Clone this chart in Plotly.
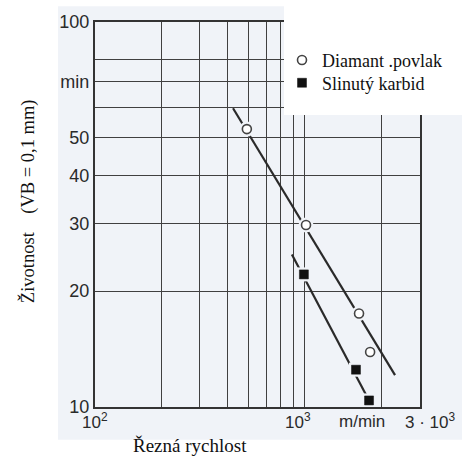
import math
import plotly.graph_objects as go

# ---- data ----
diamond_speed = [490, 910, 1585, 1780]        # m/min
diamond_life = [52.7, 29.7, 17.5, 13.9]       # min
carbide_speed = [890, 1535, 1760]
carbide_life = [22.1, 12.5, 10.4]

diamond_fit_speed = [424, 2310]
diamond_fit_life = [59.7, 12.1]
carbide_fit_speed = [785, 1760]
carbide_fit_life = [24.9, 10.4]

x_grid_vals = [200, 300, 400, 500, 600, 700, 800, 900, 2000]
y_grid_vals = [20, 30, 40, 50, 60, 70, 80]
y_tick_vals = [10, 20, 30, 40, 50, 70, 100]
y_tick_text = ["10", "20", "30", "40", "50", "min", "100"]

x_label_vals = [100, 1000, 3000]
x_label_text = ["10<sup>2</sup>", "10<sup>3</sup>", "3 · 10<sup>3</sup>"]
x_label_shift = [0, -17, 10]

names = ["Diamant .povlak", "Slinutý karbid"]
x_title = "Řezná rychlost"
y_title = "Životnost\u00a0\u00a0\u00a0\u00a0(VB = 0,1 mm)"
unit_label = "m/min"

INK = "#2a2a2a"
GRID = "#404040"
BG = "#f0f3f8"
SANS = "Liberation Sans, Arial, sans-serif"
SERIF = "Liberation Serif"

fig = go.Figure()

# fitted lines
fig.add_trace(go.Scatter(x=diamond_fit_speed, y=diamond_fit_life, mode="lines",
                         line=dict(color=INK, width=2.2), showlegend=False, hoverinfo="skip"))
fig.add_trace(go.Scatter(x=carbide_fit_speed, y=carbide_fit_life, mode="lines",
                         line=dict(color=INK, width=2.2), showlegend=False, hoverinfo="skip"))
# halos (gaps in the line around markers)
fig.add_trace(go.Scatter(x=diamond_speed, y=diamond_life, mode="markers",
                         marker=dict(symbol="circle", size=15, color=BG), showlegend=False, hoverinfo="skip"))
fig.add_trace(go.Scatter(x=carbide_speed, y=carbide_life, mode="markers",
                         marker=dict(symbol="square", size=14, color=BG), showlegend=False, hoverinfo="skip"))
# markers
fig.add_trace(go.Scatter(x=diamond_speed, y=diamond_life, mode="markers", name=names[0],
                         legend="legend",
                         marker=dict(symbol="circle", size=9, color="white",
                                     line=dict(color="#444", width=1.6))))
fig.add_trace(go.Scatter(x=carbide_speed, y=carbide_life, mode="markers", name=names[1],
                         legend="legend2",
                         marker=dict(symbol="square", size=9, color="#111",
                                     line=dict(color="#111", width=0.5))))

L, R, T, B = 95, 42, 18, 55
W = H = 462
pw = W - L - R
ph = H - T - B

def px_x(px):
    return (px - L) / pw

def px_y(py):
    return 1 - (py - T) / ph

shapes = [
    # scanned background tint
    dict(type="rect", xref="paper", yref="paper", x0=px_x(58), x1=px_x(470),
         y0=px_y(440), y1=px_y(2), fillcolor=BG, line=dict(width=0), layer="below"),
    # white legend box covering the grid
    dict(type="rect", xref="paper", yref="paper", x0=px_x(284), x1=px_x(470),
         y0=px_y(112), y1=px_y(-5), fillcolor="white", line=dict(width=0), layer="above"),
]

annotations = []
for v, t, s in zip(x_label_vals, x_label_text, x_label_shift):
    annotations.append(dict(x=math.log10(v), xref="x", y=0, yref="paper", text=t,
                            showarrow=False, xanchor="center", yanchor="middle",
                            yshift=-14, xshift=s, font=dict(family=SANS, size=17, color=INK)))
annotations.append(dict(x=px_x(362), y=0, xref="paper", yref="paper", text=unit_label,
                        showarrow=False, xanchor="center", yanchor="middle", yshift=-14,
                        font=dict(family=SANS, size=17, color=INK)))
annotations.append(dict(x=px_x(190), y=px_y(446), xref="paper", yref="paper", text=x_title,
                        showarrow=False, xanchor="center", yanchor="middle",
                        font=dict(family=SERIF, size=19, color="#111")))
annotations.append(dict(x=px_x(28), y=px_y(199), xref="paper", yref="paper", text=y_title,
                        showarrow=False, xanchor="center", yanchor="middle", textangle=-90,
                        font=dict(family=SERIF, size=18.5, color="#111")))

legend_common = dict(xanchor="left", yanchor="top", bgcolor="rgba(0,0,0,0)", borderwidth=0,
                     font=dict(family=SERIF, size=18, color="#111"), itemwidth=30)

fig.update_layout(
    width=W, height=H,
    margin=dict(l=L, r=R, t=T, b=B),
    paper_bgcolor="white",
    plot_bgcolor="rgba(0,0,0,0)",
    showlegend=True,
    legend=dict(x=px_x(282), y=px_y(38), **legend_common),
    legend2=dict(x=px_x(282), y=px_y(61), **legend_common),
    shapes=shapes,
    annotations=annotations,
    xaxis=dict(type="log", range=[2, math.log10(3000)],
               showgrid=False, ticks="", showticklabels=False,
               tickvals=x_label_vals,
               minor=dict(tickvals=x_grid_vals, showgrid=True, gridcolor=GRID,
                          gridwidth=1.4, ticks=""),
               showline=True, mirror=True, linecolor="#333", linewidth=2.2,
               zeroline=False),
    yaxis=dict(type="log", range=[1, 2],
               showgrid=False, ticks="",
               tickvals=y_tick_vals, ticktext=y_tick_text,
               tickfont=dict(family=SANS, size=18, color=INK),
               minor=dict(tickvals=y_grid_vals, showgrid=True, gridcolor=GRID,
                          gridwidth=1.4, ticks=""),
               showline=True, mirror=True, linecolor="#333", linewidth=2.2,
               zeroline=False),
)

fig.write_html("out.html", config={"displayModeBar": False},
               post_script="document.body.style.margin='0px';")
